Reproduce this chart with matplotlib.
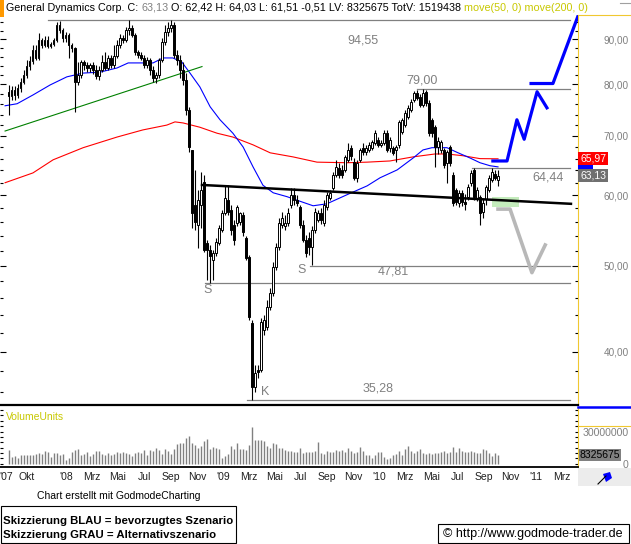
import matplotlib
matplotlib.use('Agg')
import matplotlib.pyplot as plt
import matplotlib.dates as mdates
import matplotlib.transforms as mtransforms
from matplotlib.lines import Line2D
from matplotlib.patches import Rectangle, Polygon
from matplotlib.ticker import FixedLocator, FuncFormatter, NullFormatter
import numpy as np
import pandas as pd

plt.rcParams['font.family'] = ['Liberation Sans', 'DejaVu Sans']

# weekly candles General Dynamics, last week = Oct 4 2010
LAST_WEEK = '2010-10-04'
OPEN = [78.5, 77.6, 78.9, 77.9, 79.3, 80.5, 82.0, 83.9, 85.0, 87.5,
        85.7, 89.8, 88.6, 89.8, 88.4, 88.9, 89.8, 93.4, 92.2, 90.3,
        91.0, 88.6, 88.0, 80.5, 82.0, 84.8, 84.2, 83.5, 84.2, 83.1,
        81.8, 83.1, 84.8, 83.5, 85.7, 84.2, 86.1, 88.6, 90.3, 89.8,
        92.2, 92.6, 91.0, 87.0, 86.4, 85.7, 84.2, 85.3, 83.1, 81.4,
        82.0, 85.3, 89.3, 91.7, 92.6, 93.4, 86.4, 85.3, 83.1, 80.9,
        74.9, 67.5, 58.5, 55.6, 58.5, 62.1, 53.0, 52.1, 50.7, 51.7,
        53.0, 54.9, 57.3, 59.3, 57.8, 55.6, 55.9, 56.0, 57.0, 53.7,
        51.1, 43.1, 36.5, 38.1, 38.1, 42.3, 42.6, 44.9, 46.6, 49.8,
        52.5, 55.6, 55.4, 55.9, 58.5, 60.1, 59.3, 58.2, 55.6, 53.4,
        53.7, 52.5, 54.9, 56.3, 57.3, 55.9, 58.2, 59.6, 61.2, 63.3,
        64.4, 64.1, 64.1, 65.8, 67.9, 65.4, 62.8, 65.8, 67.9, 67.1,
        67.5, 67.9, 68.7, 69.3, 68.4, 68.7, 70.5, 67.9, 67.9, 67.5,
        68.4, 70.7, 72.0, 73.5, 74.9, 76.9, 78.3, 77.5, 75.9, 78.5,
        76.3, 73.0, 71.6, 68.0, 67.5, 67.5, 65.3, 68.0, 63.3, 60.9,
        58.8, 60.4, 59.0, 59.7, 62.0, 64.1, 59.5, 59.7, 57.5, 59.5,
        60.9, 62.5, 63.4, 62.42]
HIGH = [79.9, 79.7, 79.7, 80.1, 81.4, 83.1, 85.3, 86.1, 88.6, 88.6,
        91.4, 90.3, 90.7, 90.7, 89.3, 90.3, 94.1, 94.3, 92.6, 91.7,
        91.4, 89.1, 88.2, 84.8, 85.3, 85.3, 84.8, 84.6, 84.8, 84.2,
        83.9, 86.4, 87.0, 86.4, 86.4, 88.6, 89.8, 91.2, 91.0, 92.8,
        94.6, 93.4, 91.4, 87.5, 87.0, 86.4, 85.9, 85.7, 83.9, 82.6,
        85.7, 90.3, 93.4, 94.1, 94.55, 94.1, 87.5, 86.4, 84.8, 82.4,
        75.5, 67.5, 64.1, 60.9, 63.8, 63.3, 53.4, 52.8, 52.1, 53.7,
        55.6, 57.8, 61.5, 61.6, 58.5, 56.3, 58.5, 57.5, 57.5, 54.0,
        51.4, 43.4, 38.6, 38.6, 43.7, 44.0, 45.7, 47.2, 50.5, 53.0,
        56.6, 57.5, 57.0, 58.1, 61.2, 61.2, 60.1, 58.5, 56.3, 54.1,
        54.6, 55.4, 58.1, 57.8, 58.1, 59.3, 60.5, 60.9, 63.8, 65.8,
        65.3, 64.9, 66.6, 68.7, 68.4, 66.1, 65.8, 67.9, 68.7, 68.4,
        68.9, 69.3, 71.1, 69.8, 69.3, 71.1, 71.1, 69.8, 68.2, 68.4,
        73.0, 73.3, 74.9, 75.9, 77.1, 78.7, 78.9, 78.1, 79.0, 78.9,
        76.9, 73.3, 72.0, 69.8, 69.3, 67.9, 67.5, 68.4, 63.8, 61.2,
        60.9, 60.9, 60.2, 61.8, 64.1, 64.4, 61.3, 60.1, 59.5, 61.6,
        63.3, 64.4, 64.1, 64.03]
LOW = [73.9, 76.9, 76.9, 77.3, 78.5, 80.1, 81.4, 83.1, 84.4, 85.3,
       85.3, 88.0, 88.2, 88.0, 88.0, 88.4, 89.3, 91.4, 89.3, 89.3,
       85.7, 87.0, 74.5, 79.9, 81.4, 83.1, 82.6, 82.6, 82.2, 81.1,
       80.9, 82.6, 83.1, 83.1, 83.5, 83.5, 85.7, 88.0, 89.1, 89.3,
       91.0, 90.5, 86.4, 85.7, 85.3, 83.5, 83.5, 82.0, 80.5, 80.3,
       81.4, 84.8, 88.6, 90.7, 91.7, 85.7, 84.2, 81.4, 79.9, 73.9,
       67.1, 55.1, 54.9, 52.3, 55.1, 51.8, 48.2, 47.81, 48.2, 51.3,
       52.8, 54.6, 57.0, 57.0, 54.1, 52.8, 55.4, 55.6, 54.0, 50.7,
       43.4, 35.28, 36.0, 37.4, 37.9, 41.8, 42.3, 44.6, 46.2, 49.4,
       52.1, 55.1, 54.9, 55.4, 58.1, 58.5, 58.4, 55.1, 53.2, 51.1,
       51.4, 50.1, 54.4, 56.0, 55.7, 55.4, 57.8, 59.3, 60.9, 62.9,
       62.8, 62.8, 63.8, 65.4, 65.8, 62.5, 62.1, 65.4, 66.6, 66.6,
       67.1, 67.5, 68.4, 68.0, 68.0, 68.4, 67.1, 67.1, 66.6, 65.4,
       67.9, 70.4, 71.6, 73.2, 74.5, 76.5, 76.9, 75.5, 75.5, 75.7,
       70.0, 69.8, 64.6, 66.8, 67.0, 64.4, 62.0, 64.8, 58.4, 58.5,
       58.2, 58.4, 57.8, 59.3, 61.5, 59.3, 59.1, 55.6, 56.6, 58.5,
       60.5, 62.1, 62.5, 61.51]
CLOSE = [77.6, 78.9, 77.9, 79.3, 80.5, 82.0, 83.9, 85.0, 87.5, 85.7,
         89.8, 88.6, 89.8, 88.4, 88.9, 89.8, 93.4, 92.2, 90.3, 91.0,
         88.6, 88.0, 80.5, 82.0, 84.8, 84.2, 83.5, 84.2, 83.1, 81.8,
         83.1, 84.8, 83.5, 85.7, 84.2, 86.1, 88.6, 90.3, 89.8, 92.2,
         92.6, 91.0, 87.0, 86.4, 85.7, 84.2, 85.3, 83.1, 81.4, 82.0,
         85.3, 89.3, 91.7, 92.6, 93.4, 86.4, 85.3, 83.1, 80.9, 74.9,
         68.0, 57.3, 56.0, 59.3, 60.9, 52.1, 52.1, 51.3, 51.7, 53.2,
         55.1, 57.3, 59.6, 57.5, 54.9, 53.4, 58.2, 57.3, 54.6, 51.0,
         43.8, 36.5, 37.8, 37.9, 43.2, 43.4, 44.9, 46.6, 49.8, 52.5,
         55.9, 56.6, 55.9, 57.3, 60.1, 59.3, 58.8, 55.6, 53.4, 51.7,
         52.5, 54.9, 57.5, 57.3, 56.3, 58.5, 60.1, 60.4, 63.3, 64.6,
         63.3, 63.3, 66.3, 67.5, 66.4, 62.8, 65.3, 67.5, 67.1, 67.9,
         68.4, 68.9, 70.5, 68.4, 68.7, 70.5, 67.5, 69.3, 67.0, 68.0,
         72.6, 73.0, 74.3, 75.3, 76.5, 78.3, 77.3, 75.9, 78.3, 76.3,
         70.5, 70.5, 68.0, 69.0, 68.9, 64.9, 67.1, 65.3, 58.8, 59.0,
         60.4, 59.0, 58.6, 61.3, 63.6, 59.7, 60.9, 57.3, 58.8, 61.3,
         62.8, 63.8, 62.8, 63.13]
# weekly volume, millions of shares
VOLUME_M = [12.8, 6.5, 7.5, 5.6, 8.1, 8.1, 8.1, 8.1, 8.1, 8.7,
            10.3, 9.3, 11.8, 11.2, 6.5, 10.3, 9.7, 8.1, 8.7, 3.4,
            5.6, 11.2, 12.8, 13.7, 8.1, 8.7, 11.2, 7.2, 9.3, 11.8,
            11.8, 8.7, 8.1, 10.0, 8.1, 9.3, 11.2, 9.7, 11.2, 10.3,
            8.7, 6.9, 10.0, 10.6, 10.3, 12.8, 8.1, 12.5, 11.8, 15.0,
            12.5, 9.0, 13.7, 12.1, 9.0, 13.7, 18.4, 19.3, 19.3, 24.3,
            26.2, 19.0, 17.8, 14.3, 16.5, 21.2, 23.1, 13.7, 15.6, 15.0,
            13.7, 5.6, 7.2, 9.3, 16.5, 13.7, 19.3, 13.7, 13.7, 12.8,
            17.4, 34.6, 22.4, 21.8, 21.8, 21.2, 16.5, 14.3, 19.3, 18.4,
            14.3, 15.0, 12.5, 11.8, 11.8, 11.2, 10.6, 15.0,
            9.7, 11.2, 10.6, 11.2, 11.8, 20.6, 9.7, 8.7, 11.8, 11.2,
            11.2, 12.8, 11.8, 12.8, 11.2, 15.0, 12.1, 9.7, 11.2, 15.9,
            11.8, 8.1, 8.1, 5.6, 8.1, 10.6, 10.6, 6.5, 4.4, 5.0,
            8.1, 8.7, 11.8, 8.1, 13.7, 16.8, 11.8, 9.7, 11.8, 13.7,
            9.7, 8.7, 9.7, 9.3, 9.7, 9.7, 10.6, 11.8, 9.7, 10.6,
            15.9, 11.2, 15.0, 11.8, 10.6, 11.2, 11.8, 11.2, 9.7, 10.3,
            13.7, 12.8, 9.7, 7.5, 9.7, 8.33]
LAST_VOLUME = 8325675

MA50_DATES = ['2007-08-12', '2007-09-09', '2007-10-16', '2007-11-25', '2008-01-03',
              '2008-02-10', '2008-03-20', '2008-04-29', '2008-05-25', '2008-06-28',
              '2008-07-22', '2008-08-14', '2008-09-06', '2008-09-27', '2008-10-16',
              '2008-11-08', '2008-12-02', '2008-12-25', '2009-01-24', '2009-02-17',
              '2009-03-12', '2009-04-04', '2009-04-28', '2009-05-30', '2009-06-29',
              '2009-07-30', '2009-08-31', '2009-10-17', '2009-12-03', '2010-01-02',
              '2010-02-11', '2010-03-20', '2010-04-12', '2010-05-03', '2010-06-07',
              '2010-06-30', '2010-07-31', '2010-08-23', '2010-09-15', '2010-10-04']
MA50 = [75.7, 76.1, 77.85, 79.9, 81.6, 82.4, 82.6, 83.5, 84.6, 84.6,
        84.6, 85.7, 85.7, 84.8, 82.4, 79.5, 75.5, 73.0, 70.5, 68.0,
        64.6, 61.6, 60.4, 59.8, 59.1, 58.4, 58.7, 60.1, 61.5, 62.8,
        64.1, 66.1, 67.5, 67.9, 67.9, 67.1, 66.1, 65.3, 64.8, 64.6]
MA200_DATES = ['2007-08-12', '2007-10-16', '2007-12-02', '2008-02-10', '2008-04-29',
               '2008-06-28', '2008-08-23', '2008-09-11', '2008-09-30', '2008-11-08',
               '2008-12-18', '2009-01-24', '2009-03-12', '2009-04-21', '2009-06-13',
               '2009-08-08', '2009-10-17', '2009-12-03', '2010-01-25', '2010-03-20',
               '2010-05-10', '2010-06-07', '2010-07-14', '2010-08-23', '2010-10-04']
MA200 = [62.0, 63.6, 65.8, 67.9, 69.8, 71.1, 72.0, 72.6, 72.4, 71.6,
         70.5, 69.8, 68.4, 67.0, 66.3, 65.4, 65.3, 65.4, 65.6, 66.3,
         66.8, 66.8, 66.5, 66.0, 65.97]

TREND_DATES = ['2007-08-12', '2008-11-13']
TREND = [70.9, 83.8]
NECK_DATES = ['2008-11-13', '2011-03-23']
NECK = [61.64, 58.7]

LEVELS = [94.55, 79.00, 64.44, 50.0, 47.81, 35.28]
LEVEL_START = ['2007-11-20', '2010-03-29', '2010-08-04', '2009-07-23', '2008-11-20', '2009-02-26']
LEVEL_END = '2011-03-21'
LEVEL_TEXT = ['94,55', '79,00', '64,44', '47,81', '35,28', 'S', 'S', 'K']
LEVEL_TEXT_DATE = ['2009-11-23', '2010-04-10', '2011-01-29', '2010-02-01', '2009-12-28',
                   '2008-11-27', '2009-07-04', '2009-04-09']
LEVEL_TEXT_PRICE = [89.6, 80.9, 62.9, 49.3, 36.4, 46.9, 49.4, 36.0]

BLUE_A_DATES = ['2010-09-22', '2010-10-25', '2010-11-17', '2010-12-04', '2011-01-03', '2011-01-26']
BLUE_A = [65.6, 65.6, 73.0, 69.4, 78.5, 75.3]
BLUE_B_DATES = ['2010-12-20', '2011-02-09', '2011-04-10']
BLUE_B = [80.2, 80.2, 96.0]
GRAY_DATES = ['2010-10-04', '2010-11-01', '2010-12-22', '2011-01-22']
GRAY = [57.9, 57.9, 49.1, 52.75]
ZONE_DATES = ['2010-09-20', '2010-11-22']
ZONE = [58.2, 59.8]

MONTH_DATES = ['2007-08-14', '2007-10-01', '2008-01-01', '2008-03-01', '2008-05-01', '2008-07-01',
               '2008-09-01', '2008-11-01', '2009-01-01', '2009-03-01', '2009-05-01', '2009-07-01',
               '2009-09-01', '2009-11-01', '2010-01-01', '2010-03-01', '2010-05-01', '2010-07-01',
               '2010-09-01', '2010-11-01', '2011-01-01', '2011-03-01']
MONTH_LABELS = ["'07", 'Okt', "'08", 'Mrz', 'Mai', 'Jul', 'Sep', 'Nov', "'09", 'Mrz', 'Mai', 'Jul',
                'Sep', 'Nov', "'10", 'Mrz', 'Mai', 'Jul', 'Sep', 'Nov', "'11", 'Mrz']
PRICE_TICKS = [40, 50, 60, 70, 80, 90]

W, H = 631, 544
YELLOW, OLIVE, GREY = '#f0c830', '#c8c800', '#808080'


def dn(dates):
    return mdates.date2num(pd.to_datetime(dates))


def fbox(x0, y0, x1, y1):
    return [x0 / W, 1 - y1 / H, (x1 - x0) / W, (y1 - y0) / H]


def fline(fig, xs, ys, **kw):
    fig.add_artist(Line2D([x / W for x in xs], [1 - y / H for y in ys],
                          transform=fig.transFigure, **kw))


fig = plt.figure(figsize=(W / 100, H / 100), dpi=100)
ax = fig.add_axes(fbox(0, 15, 578, 405))
axv = fig.add_axes(fbox(0, 408, 578, 467), sharex=ax)

t = mdates.date2num(pd.date_range(end=LAST_WEEK, periods=len(CLOSE), freq='7D'))
o, h, l, c = (np.array(a) for a in (OPEN, HIGH, LOW, CLOSE))
up = c >= o

# price panel
ax.set_yscale('log')
ax.set_ylim(34.83, 95.8)
jan08 = mdates.date2num(pd.Timestamp('2008-01-01'))
px_days = 365.25 / 156.7
ax.set_xlim(jan08 - 66 * px_days, jan08 + 512 * px_days)

for v, s in zip(LEVELS, LEVEL_START):
    ax.plot(dn([s, LEVEL_END]), [v, v], color=GREY, lw=0.9, zorder=1)
for s, d, p in zip(LEVEL_TEXT, LEVEL_TEXT_DATE, LEVEL_TEXT_PRICE):
    ax.text(dn([d])[0], p, s, color=GREY, fontsize=9, ha='center', va='center')

ax.plot(dn(MA200_DATES), MA200, color='#ff0000', lw=0.8, zorder=2)
ax.plot(dn(MA50_DATES), MA50, color='#0000ff', lw=0.8, zorder=2)
ax.plot(dn(TREND_DATES), TREND, color='#008000', lw=0.8, zorder=2)

ax.vlines(t, l, h, color='black', lw=0.8, zorder=3)
ax.bar(t, np.abs(c - o), bottom=np.minimum(o, c), width=4.3,
       color=np.where(up, 'white', 'black'), edgecolor='black', lw=0.7, zorder=4)

ax.plot(dn(NECK_DATES), NECK, color='black', lw=1.8, zorder=5)
zd = dn(ZONE_DATES)
ax.add_patch(Rectangle((zd[0], ZONE[0]), zd[1] - zd[0], ZONE[1] - ZONE[0],
                       facecolor='#c4ecbc', edgecolor='none', zorder=4.5))
ax.plot(dn(GRAY_DATES), GRAY, color='#b8b8b8', lw=2.6, zorder=6)
ax.plot(dn(BLUE_A_DATES), BLUE_A, color='#0000ff', lw=2.3, zorder=6)
ax.plot(dn(BLUE_B_DATES), BLUE_B, color='#0000ff', lw=2.3, zorder=6)

ax.yaxis.set_major_locator(FixedLocator(PRICE_TICKS))
ax.yaxis.set_major_formatter(FuncFormatter(lambda v, _: f'{v:.2f}'.replace('.', ',')))
ax.yaxis.set_minor_locator(FixedLocator([v for v in range(36, 96, 2) if v % 10]))
ax.yaxis.set_minor_formatter(NullFormatter())
ax.tick_params(axis='y', which='both', direction='in', left=True, right=True,
               labelleft=False, labelright=True, width=0.8)
ax.tick_params(axis='y', which='major', length=4, labelsize=7.2, labelcolor=GREY, pad=36.5)
ax.tick_params(axis='y', which='minor', length=2.2)
plt.setp(ax.get_yticklabels(), ha='right')
ax.tick_params(axis='x', bottom=False, labelbottom=False)
for sp in ('left', 'top'):
    ax.spines[sp].set_visible(False)
ax.spines['right'].set_color(YELLOW)
ax.spines['bottom'].set_linewidth(1.6)

# value tags on the right edge (50-MA tag mostly hidden, as in the original)
trans = mtransforms.blended_transform_factory(ax.transAxes, ax.transData)
tag = dict(transform=trans, ha='left', va='center', fontsize=7.5, clip_on=False)
ax.text(1.0035, MA50[-1], '    ', color='white',
        bbox=dict(boxstyle='square,pad=0.15', fc='#0000ff', ec='none'), **tag)
ax.text(1.0035, MA200[-1], f'{MA200[-1]:.2f}'.replace('.', ','), color='white',
        bbox=dict(boxstyle='square,pad=0.15', fc='#ff0000', ec='none'), **tag, zorder=7)
ax.text(1.0035, CLOSE[-1], f'{CLOSE[-1]:.2f}'.replace('.', ','), color='white',
        bbox=dict(boxstyle='square,pad=0.15', fc='#707070', ec='none'), **tag, zorder=8)

# volume panel
axv.vlines(t, 0, VOLUME_M, color=GREY, lw=1.0)
axv.set_ylim(-3.1, 52)
axv.yaxis.set_major_locator(FixedLocator([0, 30]))
axv.yaxis.set_major_formatter(FuncFormatter(lambda v, _: f'{int(v * 1e6)}'))
axv.yaxis.set_minor_locator(FixedLocator(range(5, 55, 5)))
axv.tick_params(axis='y', which='both', direction='in', left=True, right=True,
                labelleft=False, labelright=True, width=0.8, length=2.5)
axv.tick_params(axis='y', which='major', labelsize=7.6, labelcolor=GREY, pad=36.5)
plt.setp(axv.get_yticklabels(), ha='right')
axv.set_xticks(dn(MONTH_DATES))
axv.set_xticklabels(MONTH_LABELS)
axv.tick_params(axis='x', length=0, labelsize=7.5, labelcolor='#202020', pad=3.5)
for sp in ('left', 'top'):
    axv.spines[sp].set_visible(False)
axv.spines['right'].set_color(YELLOW)
axv.spines['bottom'].set_linewidth(1.3)
axv.text(0.01, 0.93, 'VolumeUnits', transform=axv.transAxes, color=OLIVE,
         fontsize=7.5, ha='left', va='top')
vtrans = mtransforms.blended_transform_factory(axv.transAxes, axv.transData)
axv.text(1.003, VOLUME_M[-1], str(LAST_VOLUME), transform=vtrans,
         ha='left', va='center', fontsize=7.5, color='black', clip_on=False, zorder=5,
         bbox=dict(boxstyle='square,pad=0.1', fc=GREY, ec='none'))

# title line
fig.add_artist(Rectangle((0, 1 - 17 / H), 4 / W, 17 / H, transform=fig.transFigure,
                         facecolor='#ff9900', edgecolor='none'))
renderer = fig.canvas.get_renderer()
TITLE_PARTS = [('General Dynamics Corp. C:', 'black'), ('63,13', GREY),
               ('O: 62,42 H: 64,03 L: 61,51 -0,51 LV: 8325675 TotV: 1519438', 'black'),
               ('move(50, 0) move(200, 0)', OLIVE)]
xpos = 6
for s, col in TITLE_PARTS:
    tx = fig.text(xpos / W, 1 - 8 / H, s, color=col, fontsize=7.75, ha='left', va='center')
    xpos = tx.get_window_extent(renderer).x1 + 3
fline(fig, [620, 631], [3, 3], color='#a0a0a0', lw=0.8)

# right-hand frame pieces
fline(fig, [578, 631], [15, 15], color=YELLOW, lw=0.8)
fline(fig, [578, 631], [406.5, 406.5], color='#0000ff', lw=1.8)
fline(fig, [578, 631], [426, 426], color=YELLOW, lw=0.8)
fig.add_artist(Rectangle((578 / W, 1 - 486 / H), 53 / W, 18 / H, transform=fig.transFigure,
                         facecolor='#ececec', edgecolor='none'))
fig.add_artist(Polygon([[(x) / W, 1 - y / H] for x, y in
                        [(603, 474), (610, 472), (612, 478), (606, 482)]],
                       closed=True, transform=fig.transFigure, facecolor='#0000ff', edgecolor='none'))
fline(fig, [598, 606], [484, 476], color='black', lw=0.8)

# footer
fig.text(37 / W, 1 - 496 / H, 'Chart erstellt mit GodmodeCharting', fontsize=7.5,
         ha='left', va='center')
fig.add_artist(Rectangle((0.5 / W, 1 - 543 / H), 236 / W, 37 / H, transform=fig.transFigure,
                         facecolor='white', edgecolor='black', lw=0.8))
fig.text(3 / W, 1 - 521 / H, 'Skizzierung BLAU = bevorzugtes Szenario', fontsize=8.2,
         fontweight='bold', ha='left', va='center')
fig.text(3 / W, 1 - 535.5 / H, 'Skizzierung GRAU = Alternativszenario', fontsize=8.2,
         fontweight='bold', ha='left', va='center')
fig.add_artist(Rectangle((438 / W, 1 - 543 / H), 191 / W, 19 / H, transform=fig.transFigure,
                         facecolor='white', edgecolor='black', lw=0.8))
fig.text(443 / W, 1 - 533.5 / H, '\u00a9 http://www.godmode-trader.de', fontsize=9,
         ha='left', va='center')

fig.savefig('out.png', dpi=100)
